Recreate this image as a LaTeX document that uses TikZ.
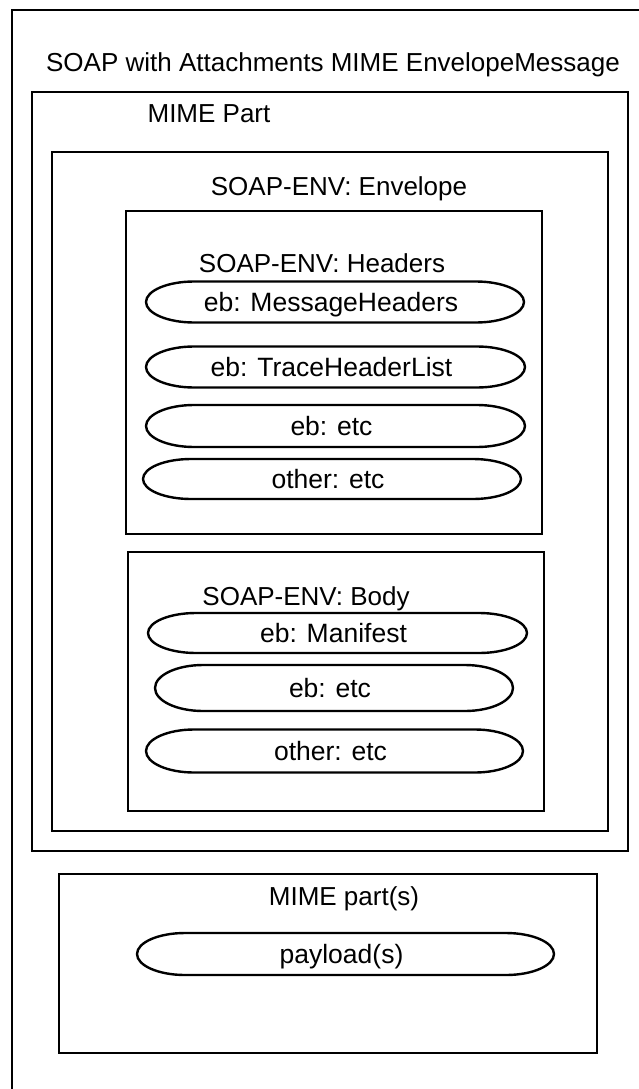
\documentclass[tikz,border=0pt]{standalone}
\usepackage{fontspec}
\setmainfont{Liberation Sans}
\newcommand{\blobnode}[6]{% name, cx, cy, half width, half height, text
  \node[blobtext] (#1) at ({#2-4},#3) {#6};
  \draw[blobline] ({#2-#4+48},{#3-#5}) -- ({#2+#4-48},{#3-#5})
     arc[start angle=90,end angle=-90,x radius=48pt,y radius=#5pt]
     -- ({#2-#4+48},{#3+#5})
     arc[start angle=270,end angle=90,x radius=48pt,y radius=#5pt] -- cycle;
}
\begin{document}
\begin{tikzpicture}[x=1pt,y=-1pt,
  frame/.style={draw=black, line width=2.4pt, rectangle, inner sep=0pt},
  blobline/.style={draw=black, line width=2.4pt, line join=round},
  lbl/.style={font=\fontsize{26}{31}\selectfont, anchor=base, inner sep=0pt},
  blobtext/.style={font=\fontsize{26.5}{31}\selectfont, inner sep=0pt, text height=18pt, text depth=0pt}]
\useasboundingbox (0,0) rectangle (639,1089);
\fill[white] (0,0) rectangle (639,1089);
\begin{scope}
\clip (0,0) rectangle (639,1089);
\node[frame, minimum width=708pt, minimum height=1190pt] (outer) at (366,605) {};
\end{scope}
\node[frame, minimum width=596pt, minimum height=759pt] (mimepart) at (330,471.5) {};
\node[frame, minimum width=556pt, minimum height=679pt] (envelope) at (330,491.5) {};
\node[frame, minimum width=416pt, minimum height=323pt] (headers) at (334,372.5) {};
\node[frame, minimum width=416pt, minimum height=259pt] (body) at (336,681.5) {};
\node[frame, minimum width=538pt, minimum height=179pt] (mimeparts) at (328,963.5) {};

\node[lbl] (ttitle) at (333,72) {SOAP with Attachments MIME EnvelopeMessage};
\node[lbl] (tmimepart) at (209,123) {MIME Part};
\node[lbl] (tenvelope) at (339,195) {SOAP-ENV: Envelope};
\node[lbl] (theaders) at (322,272) {SOAP-ENV: Headers};
\node[lbl] (tbody) at (306,605) {SOAP-ENV: Body};
\node[lbl] (tmimeparts) at (344,905) {MIME part(s)};

\blobnode{mh}{335}{302}{189}{20.5}{eb: MessageHeaders}
\blobnode{thl}{335.5}{367}{189.5}{20.5}{eb: TraceHeaderList}
\blobnode{ebetca}{335.5}{426}{189.5}{21}{eb: etc}
\blobnode{otha}{332}{479}{189}{20}{other: etc}
\blobnode{man}{337.5}{633}{189.5}{20}{eb: Manifest}
\blobnode{ebetcb}{334}{688}{179}{23}{eb: etc}
\blobnode{othb}{334.5}{751}{188.5}{21.5}{other: etc}
\blobnode{pay}{345.5}{954}{208.5}{21}{payload(s)}
\end{tikzpicture}
\end{document}
